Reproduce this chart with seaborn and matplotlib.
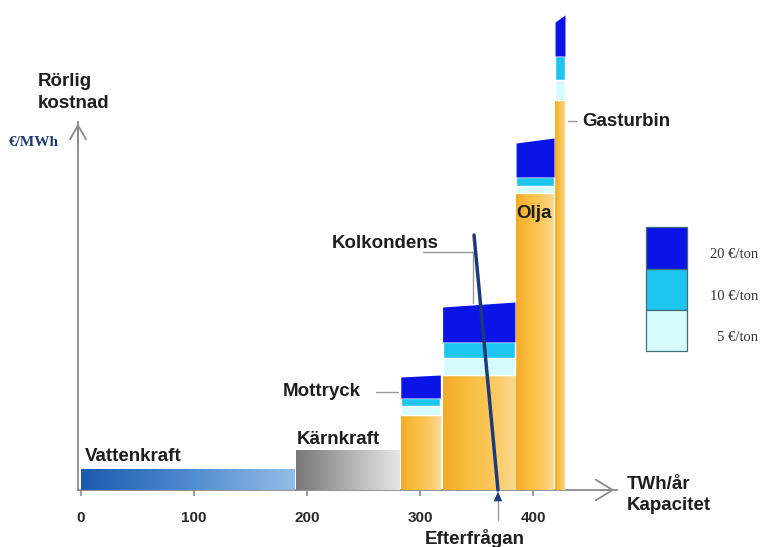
import numpy as np
import pandas as pd
import matplotlib
matplotlib.use("Agg")
import matplotlib.pyplot as plt
from matplotlib.colors import LinearSegmentedColormap
from matplotlib.patches import Rectangle
import seaborn as sns

# ---- data -------------------------------------------------------------
# base-load plants: capacity span (TWh/år) and running cost (€/MWh)
base_names = ["Vattenkraft", "Kärnkraft"]
base_start = [0.0, 190.0]
base_end = [188.5, 282.0]
base_cost = [5.25, 10.0]

# fossil plants: capacity span, fuel cost and cost at each CO2 price
fossil_names = ["Mottryck", "Kolkondens", "Olja", "Gasturbin"]
fossil_start = [283.0, 320.0, 385.0, 419.5]
fossil_end = [318.0, 384.0, 418.6, 428.3]
fuel_cost = [18.75, 28.75, 74.25, 97.5]
cost_co2_5 = [21.0, 33.0, 76.0, 102.5]
cost_co2_10 = [23.0, 37.0, 78.25, 108.5]
cost_co2_20_low = [28.25, 45.75, 86.75, 117.0]
cost_co2_20_high = [28.75, 47.0, 88.0, 118.75]

co2_labels = ["20 €/ton", "10 €/ton", "5 €/ton"]

# demand curve
demand_x = [347.8, 369.0]
demand_y = [63.75, 0.0]

x_ticks = [0, 100, 200, 300, 400]

# ---- style ------------------------------------------------------------
sns.set_theme(style="white")
plt.rcParams["font.family"] = ["Liberation Sans", "DejaVu Sans"]

C_DARK = "#0a14e6"
C_MID = "#1ec6ef"
C_LIGHT = "#d6fbfd"
C_AXIS = "#8a8a8a"
C_TEXT = "#1e1e1e"

cm_blue = LinearSegmentedColormap.from_list("hydro", ["#1b5aae", "#4f8ad0", "#93bde6"])
cm_gray = LinearSegmentedColormap.from_list("nuclear", ["#777777", "#b0b0b0", "#e6e6e6"])
cm_orange = LinearSegmentedColormap.from_list(
    "fuel", ["#f3aa28", "#f9bd3e", "#fbc85c", "#fdd995"])

fig = plt.figure(figsize=(7.62, 5.47), dpi=100)
ax = fig.add_axes([0, 0, 1, 1])
ax.set_facecolor("white")

XL = (-71.68, 602.65)
YL = (-14.25, 122.5)


def gradient_bars(bars, cmap):
    grad = np.linspace(0, 1, 256).reshape(1, -1)
    for b in bars:
        x0, w, h = b.get_x(), b.get_width(), b.get_height()
        im = ax.imshow(grad, cmap=cmap, aspect="auto",
                       extent=(x0, x0 + w, 0, h), zorder=2,
                       interpolation="bicubic")
        im.set_clip_path(b)


# base-load bars with horizontal gradients
widths = np.array(base_end) - np.array(base_start)
b1 = ax.bar(base_start[0], base_cost[0], width=widths[0], align="edge",
            facecolor="none", edgecolor="none", zorder=2)
b2 = ax.bar(base_start[1], base_cost[1], width=widths[1], align="edge",
            facecolor="none", edgecolor="none", zorder=2)
gradient_bars(b1, cm_blue)
gradient_bars(b2, cm_gray)

# fossil plants: fuel cost part
fw = np.array(fossil_end) - np.array(fossil_start)
fb = ax.bar(fossil_start, fuel_cost, width=fw, align="edge",
            facecolor="none", edgecolor="none", zorder=2)
gradient_bars(fb, cm_orange)

# CO2 cost layers
ax.bar(fossil_start, np.array(cost_co2_5) - np.array(fuel_cost), width=fw,
       bottom=fuel_cost, align="edge", color=C_LIGHT, zorder=3)
ax.bar(fossil_start, np.array(cost_co2_10) - np.array(cost_co2_5), width=fw,
       bottom=cost_co2_5, align="edge", color=C_MID, zorder=3)
for x0, x1, lo, tl, tr in zip(fossil_start, fossil_end, cost_co2_10,
                              cost_co2_20_low, cost_co2_20_high):
    ax.fill_between([x0, x1], [lo, lo], [tl, tr], color=C_DARK,
                    linewidth=0, zorder=3)

# demand line
sns.lineplot(x=demand_x, y=demand_y, ax=ax, color="#1b3a7a", lw=2.5,
             zorder=6, sort=False)
ax.annotate("", xy=(demand_x[1], 0.3), xytext=(demand_x[1], -7.6),
            arrowprops=dict(arrowstyle="-|>,head_length=0.5,head_width=0.22",
                            color="#1b3a7a", lw=0, mutation_scale=14),
            zorder=7)
ax.plot([demand_x[1], demand_x[1]], [-1.5, -7.6], color="#9a9a9a", lw=1.0,
        zorder=5)

# axes with arrow heads
ax.spines[["top", "right"]].set_visible(False)
ax.spines["left"].set_position(("data", -2.65))
ax.spines["bottom"].set_position(("data", 0))
ax.spines["left"].set_bounds(0, 92.0)
ax.spines["bottom"].set_bounds(-2.65, 474.0)
for s in ("left", "bottom"):
    ax.spines[s].set_color(C_AXIS)
    ax.spines[s].set_linewidth(1.3)
    ax.spines[s].set_zorder(1)
ax.annotate("", xy=(474.5, 0), xytext=(460, 0),
            arrowprops=dict(arrowstyle="->,head_length=0.9,head_width=0.55",
                            color=C_AXIS, lw=1.3, mutation_scale=13.5))
ax.annotate("", xy=(-2.65, 92.3), xytext=(-2.65, 86),
            arrowprops=dict(arrowstyle="->,head_length=0.8,head_width=0.46",
                            color=C_AXIS, lw=1.3, mutation_scale=12.6))

ax.set_xticks(x_ticks)
ax.set_xticklabels([str(t) for t in x_ticks], fontsize=11, fontweight="bold",
                   color="#2a2a2a")
ax.set_yticks([])
ax.tick_params(axis="x", direction="out", length=4.5, width=1.2,
               color=C_AXIS, pad=10.5, bottom=True)
ax.set_xlim(*XL)
ax.set_ylim(*YL)

# labels
lab = dict(fontsize=13.5, fontweight="bold", color=C_TEXT, va="center")
ax.text(-38, 102.0, "Rörlig", ha="left", **lab)
ax.text(-38, 96.75, "kostnad", ha="left", **lab)
ax.text(-63.5, 87.0, "€/MWh", ha="left", va="center", fontsize=11,
        fontweight="bold", color="#203a6e",
        family=["Liberation Serif", "DejaVu Serif"])
ax.text(3.5, 8.4, base_names[0], ha="left", **lab)
ax.text(191, 12.7, base_names[1], ha="left", **lab)
ax.text(247.8, 24.5, fossil_names[0], ha="right", **lab)
ax.text(222, 61.5, fossil_names[1], ha="left", **lab)
ax.text(385.5, 69.0, fossil_names[2], ha="left", zorder=8, **lab)
ax.text(443.5, 92.25, fossil_names[3], ha="left", **lab)
ax.text(483, 1.3, "TWh/år", ha="left", **lab)
ax.text(483, -3.8, "Kapacitet", ha="left", **lab)
ax.text(348.5, -12.0, "Efterfrågan", ha="center", **lab)

# leader lines
lc = dict(color="#9a9a9a", lw=1.0, zorder=5)
ax.plot([261, 280.5], [24.5, 24.5], **lc)
ax.plot([302.7, 346.9, 346.9], [59.5, 59.5, 46.75], **lc)
ax.plot([431, 439], [92.25, 92.25], **lc)

# CO2 price key
key_x0, key_x1 = 500.0, 536.3
key_edges = [65.75, 55.25, 45.0, 34.75]
key_cols = [C_DARK, C_MID, C_LIGHT]
key_text_y = [59.0, 48.5, 38.2]
for i, (col, txt) in enumerate(zip(key_cols, co2_labels)):
    ax.add_patch(Rectangle((key_x0, key_edges[i + 1]), key_x1 - key_x0,
                           key_edges[i] - key_edges[i + 1], facecolor=col,
                           edgecolor="#3f6f75", lw=0.9, zorder=4))
    ax.text(599.0, key_text_y[i], txt, ha="right", va="center", fontsize=10.5,
            color="#333333", family=["Liberation Serif", "DejaVu Serif"])

fig.savefig("out.png", dpi=100)
